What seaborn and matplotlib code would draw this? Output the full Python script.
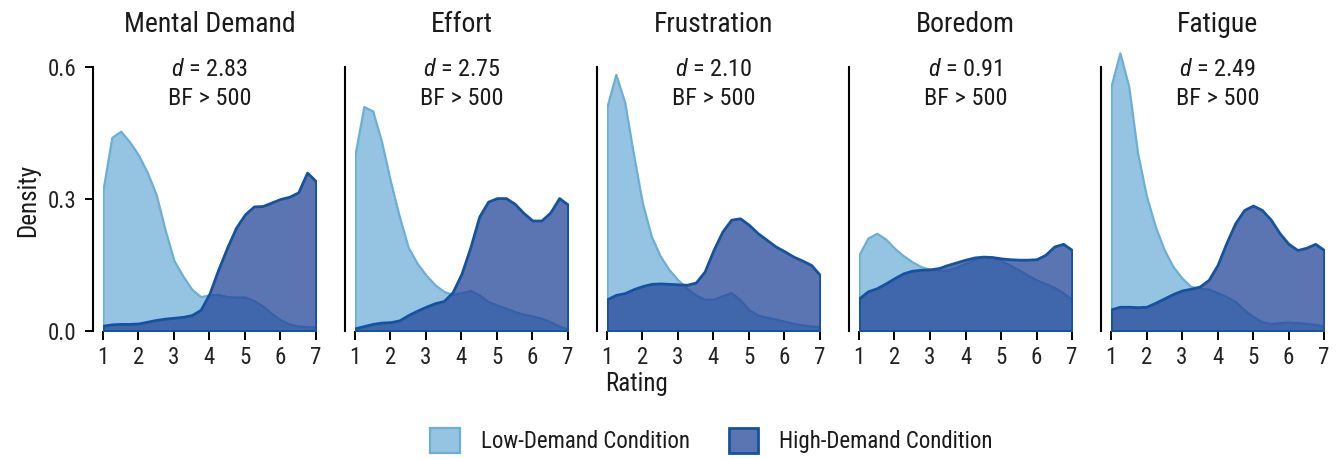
import numpy as np
import pandas as pd
import seaborn as sns
import matplotlib.pyplot as plt
from matplotlib import font_manager
from matplotlib.colors import to_rgba
from matplotlib.patches import Patch

rating = [1.00, 1.25, 1.50, 1.75, 2.00, 2.25, 2.50, 2.75, 3.00, 3.25, 3.50, 3.75,
          4.00, 4.25, 4.50, 4.75, 5.00, 5.25, 5.50, 5.75, 6.00, 6.25, 6.50, 6.75, 7.00]

measures = ["Mental Demand", "Effort", "Frustration", "Boredom", "Fatigue"]
effect_d = ["2.83", "2.75", "2.10", "0.91", "2.49"]
bayes_f = ["BF > 500", "BF > 500", "BF > 500", "BF > 500", "BF > 500"]

low_mental = [0.32, 0.44, 0.454, 0.43, 0.40, 0.36, 0.31, 0.23, 0.16, 0.125, 0.095, 0.078,
              0.082, 0.083, 0.078, 0.077, 0.077, 0.069, 0.057, 0.040, 0.025, 0.016, 0.011, 0.010, 0.009]
high_mental = [0.012, 0.015, 0.016, 0.016, 0.017, 0.021, 0.025, 0.028, 0.030, 0.032, 0.036, 0.048,
               0.085, 0.14, 0.19, 0.235, 0.265, 0.283, 0.284, 0.292, 0.300, 0.305, 0.315, 0.360, 0.34]

low_effort = [0.40, 0.51, 0.50, 0.43, 0.34, 0.26, 0.19, 0.154, 0.127, 0.105, 0.090, 0.083,
              0.087, 0.092, 0.082, 0.067, 0.059, 0.052, 0.044, 0.038, 0.034, 0.029, 0.021, 0.011, 0.004]
high_effort = [0.006, 0.011, 0.016, 0.019, 0.020, 0.024, 0.036, 0.046, 0.055, 0.063, 0.068, 0.088,
               0.13, 0.19, 0.26, 0.294, 0.302, 0.302, 0.289, 0.268, 0.251, 0.251, 0.269, 0.302, 0.287]

low_frustration = [0.51, 0.583, 0.52, 0.40, 0.29, 0.215, 0.17, 0.139, 0.116, 0.097, 0.082, 0.072,
                   0.072, 0.080, 0.087, 0.071, 0.048, 0.036, 0.031, 0.027, 0.022, 0.017, 0.014, 0.011, 0.010]
high_frustration = [0.072, 0.082, 0.086, 0.095, 0.102, 0.107, 0.108, 0.107, 0.106, 0.105, 0.110, 0.135,
                    0.184, 0.226, 0.253, 0.256, 0.241, 0.222, 0.207, 0.192, 0.181, 0.169, 0.160, 0.150, 0.127]

low_boredom = [0.173, 0.211, 0.222, 0.209, 0.188, 0.171, 0.157, 0.146, 0.140, 0.137, 0.139, 0.145,
               0.154, 0.162, 0.168, 0.168, 0.160, 0.150, 0.139, 0.127, 0.116, 0.108, 0.099, 0.087, 0.071]
high_boredom = [0.074, 0.090, 0.097, 0.108, 0.120, 0.131, 0.137, 0.139, 0.140, 0.143, 0.150, 0.156,
                0.162, 0.167, 0.169, 0.168, 0.165, 0.163, 0.162, 0.162, 0.163, 0.173, 0.192, 0.198, 0.184]

low_fatigue = [0.556, 0.632, 0.556, 0.404, 0.306, 0.237, 0.184, 0.146, 0.120, 0.101, 0.097, 0.095,
               0.087, 0.078, 0.067, 0.048, 0.033, 0.021, 0.017, 0.019, 0.020, 0.019, 0.017, 0.015, 0.011]
high_fatigue = [0.049, 0.055, 0.055, 0.054, 0.055, 0.064, 0.074, 0.084, 0.092, 0.096, 0.101, 0.116,
                0.150, 0.200, 0.245, 0.275, 0.285, 0.275, 0.253, 0.222, 0.198, 0.184, 0.189, 0.198, 0.184]

low_series = [low_mental, low_effort, low_frustration, low_boredom, low_fatigue]
high_series = [high_mental, high_effort, high_frustration, high_boredom, high_fatigue]

LOW_COLOR = "#6BAED6"
HIGH_FILL = "#24479A"
HIGH_EDGE = "#1553A0"
LOW_ALPHA = 0.72
HIGH_ALPHA = 0.75

# narrow sans if there is one, otherwise the closest plain sans
installed = {f.name for f in font_manager.fontManager.ttflist}
narrow = ["Liberation Sans Narrow", "Roboto Condensed", "DejaVu Sans Condensed",
          "Open Sans Condensed"]
plain = ["Roboto", "Liberation Sans", "Noto Sans", "DejaVu Sans"]
chosen = next((f for f in narrow if f in installed), None)
scale = 1.0
if chosen is None:
    chosen = next((f for f in plain if f in installed), "DejaVu Sans")
    scale = 0.88

sns.set_style("ticks")
plt.rcParams["font.family"] = [chosen, "DejaVu Sans"]
plt.rcParams["mathtext.fontset"] = "custom"
plt.rcParams["mathtext.it"] = chosen + ":italic"
plt.rcParams["mathtext.rm"] = chosen
plt.rcParams["text.color"] = "#1a1a1a"

fig, axes = plt.subplots(1, 5, figsize=(13.37, 4.59), dpi=100, sharey=True)
fig.subplots_adjust(left=0.077, right=0.9903, bottom=0.279, top=0.902, wspace=0.183)

for i, ax in enumerate(axes):
    df = pd.DataFrame({"rating": rating, "low": low_series[i], "high": high_series[i]})
    ax.fill_between(df["rating"], df["low"], 0,
                    facecolor=to_rgba(LOW_COLOR, LOW_ALPHA),
                    edgecolor=LOW_COLOR, linewidth=1.6, joinstyle="round", zorder=2)
    ax.fill_between(df["rating"], df["high"], 0,
                    facecolor=to_rgba(HIGH_FILL, HIGH_ALPHA),
                    edgecolor=HIGH_EDGE, linewidth=2.0, joinstyle="round", zorder=3)

    ax.set_xlim(1, 7)
    ax.set_ylim(0, 0.65)
    ax.set_xticks([1, 2, 3, 4, 5, 6, 7])
    ax.set_yticks([0.0, 0.3, 0.6])
    ax.set_yticklabels(["0.0", "0.3", "0.6"])
    ax.set_xlabel("")
    ax.set_ylabel("")
    ax.set_title(measures[i], fontsize=20 * scale, pad=9)

    sns.despine(ax=ax, bottom=True)
    ax.spines["left"].set_position(("outward", 7))
    ax.spines["left"].set_bounds(0, 0.6)
    ax.spines["left"].set_linewidth(1.5)
    ax.spines["left"].set_color("black")
    ax.tick_params(axis="x", length=6.5, width=1.4, labelsize=16.5 * scale, pad=4,
                   color="black", labelcolor="#222222")
    ax.tick_params(axis="y", length=6, width=1.4, labelsize=16.5 * scale, pad=6,
                   color="black", labelcolor="#222222")
    if i > 0:
        ax.tick_params(axis="y", length=0, labelleft=False)

    ax.text(0.5, 0.913, "$d$ = " + effect_d[i], transform=ax.transAxes,
            ha="center", va="center", fontsize=17.5 * scale)
    ax.text(0.5, 0.813, bayes_f[i], transform=ax.transAxes,
            ha="center", va="center", fontsize=17.5 * scale)

fig.text(0.021, 0.564, "Density", rotation=90, ha="center", va="center", fontsize=18 * scale)
fig.text(0.476, 0.163, "Rating", ha="center", va="center", fontsize=18 * scale)

handles = [Patch(facecolor=to_rgba(LOW_COLOR, LOW_ALPHA), edgecolor=LOW_COLOR, linewidth=1.6),
           Patch(facecolor=to_rgba(HIGH_FILL, HIGH_ALPHA), edgecolor=HIGH_EDGE, linewidth=2.0)]
fig.legend(handles, ["Low-Demand Condition", "High-Demand Condition"],
           loc="center", bbox_to_anchor=(0.532, 0.041), ncol=2, frameon=False,
           fontsize=16.5 * scale, handlelength=1.3 / scale, handleheight=1.3 / scale,
           handletextpad=0.9, columnspacing=1.7)

fig.savefig("out.png", dpi=100)
plt.close(fig)
